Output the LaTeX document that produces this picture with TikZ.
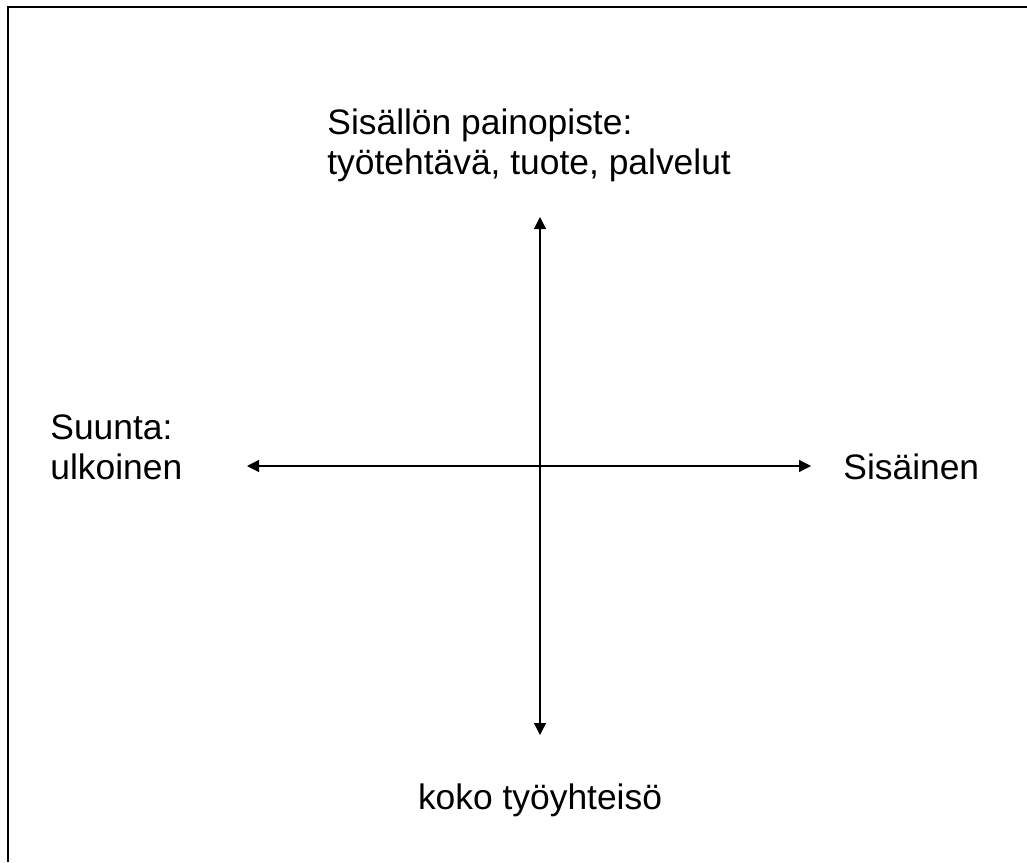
\documentclass[tikz,border=0pt]{standalone}
\usepackage{fontspec}
\setmainfont{Liberation Sans}
\usepackage{tikz}
\usetikzlibrary{arrows.meta, positioning}

\begin{document}
\begin{tikzpicture}[
        x=0.5pt, y=-0.5pt,
        every node/.style={font=\fontsize{17.7}{20}\selectfont, inner sep=0pt},
        lbl/.style={align=left, anchor=west},
        axis/.style={{Triangle[length=6pt,width=6pt]}-{Triangle[length=6pt,width=6pt]}, line width=0.6pt},
        frame/.style={line width=1pt}
    ]
        \useasboundingbox (0,0) rectangle (1027,862);
        % open frame
        \draw[frame] (8,862) -- (8,7) -- (1027,7);
        % axis ends
        \coordinate (top)    at (540,217);
        \coordinate (bottom) at (540,735);
        \coordinate (left)   at (247,466);
        \coordinate (right)  at (811,466);
        \draw[axis] (top) -- (bottom);
        \draw[axis] (left) -- (right);
        % labels
        \node[lbl] (content) at (327,145) {Sisällön painopiste:\\työtehtävä, tuote, palvelut};
        \node[lbl] (outer)   at (50,447)  {Suunta:\\ulkoinen};
        \node[lbl] (inner)   at (843,467) {Sisäinen};
        \node (whole) at (540,800) {koko työyhteisö};
    \end{tikzpicture}
\end{document}
